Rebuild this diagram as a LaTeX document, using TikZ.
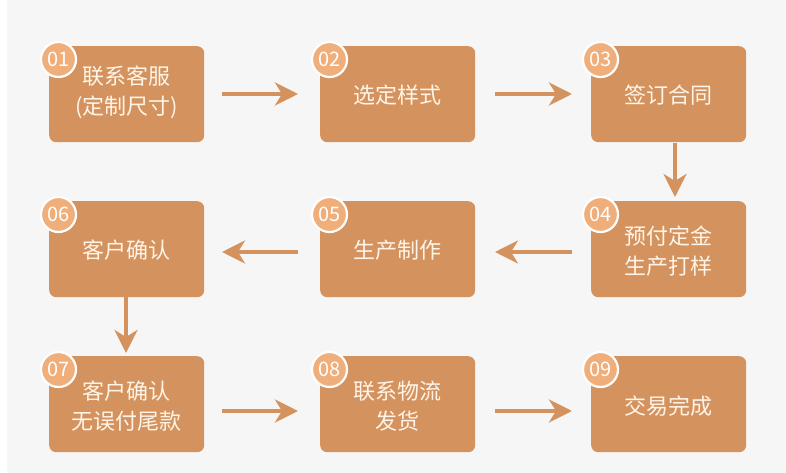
\documentclass[tikz,border=0pt]{standalone}
\usepackage{fontspec}
\newfontfamily\cjk{Noto Sans CJK SC}
\usetikzlibrary{arrows.meta}
\definecolor{boxc}{HTML}{D4935E}
\definecolor{circc}{HTML}{EFAE7A}
\definecolor{txtc}{HTML}{FFF4E8}
\definecolor{bgc}{HTML}{F6F6F6}
\tikzset{
  stepbox/.style={fill=boxc, rounded corners=7pt, minimum width=155pt, minimum height=96pt, inner sep=0pt, draw=none},
  steptext/.style={text=txtc, font=\cjk\fontsize{22}{30}\selectfont, align=center, inner sep=0pt},
  numcirc/.style={circle, fill=circc, draw=white, line width=2.2pt, minimum size=35pt, inner sep=0pt, text=white, font=\cjk\fontsize{20}{20}\selectfont},
  flow/.style={draw=boxc, line width=4pt, -{Stealth[length=23pt,width=23pt,inset=7pt]}},
}
\begin{document}
\begin{tikzpicture}[x=1pt,y=-1pt]
\useasboundingbox (0,0) rectangle (786,473);
\fill[white] (0,0) rectangle (786,473);
\fill[bgc] (7,0) rectangle (786,473);
% boxes: left x, top y
\foreach \n/\x/\y in {01/49/46, 02/320/46, 03/591/46, 04/591/201, 05/320/201, 06/49/201, 07/49/356, 08/320/356, 09/591/356}{
  \node[stepbox, anchor=north west] (b\n) at (\x,\y) {};
}
\node[steptext] (t01) at ([yshift=2pt]b01.center) {联系客服\\(定制尺寸)};
\node[steptext] (t02) at ([yshift=-1pt]b02.center) {选定样式};
\node[steptext] (t03) at ([yshift=-1pt]b03.center) {签订合同};
\node[steptext] (t04) at ([yshift=-2pt]b04.center) {预付定金\\生产打样};
\node[steptext] (t05) at ([yshift=-1pt]b05.center) {生产制作};
\node[steptext] (t06) at ([yshift=-1pt]b06.center) {客户确认};
\node[steptext] (t07) at ([yshift=-2pt]b07.center) {客户确认\\无误付尾款};
\node[steptext] (t08) at ([yshift=-2pt]b08.center) {联系物流\\发货};
\node[steptext] (t09) at ([yshift=-2pt]b09.center) {交易完成};
\foreach \n in {01,02,03,04,05,06,07,08,09}{
  \node[numcirc] (c\n) at ([xshift=9.5pt,yshift=-13.5pt]b\n.north west) {\n};
}
% arrows
\coordinate (a1s) at (222,94);  \coordinate (a1e) at (298,94);
\coordinate (a2s) at (495,94);  \coordinate (a2e) at (572,94);
\coordinate (a3s) at (675,143); \coordinate (a3e) at (675,197);
\coordinate (a4s) at (572,252); \coordinate (a4e) at (495,252);
\coordinate (a5s) at (298,252); \coordinate (a5e) at (222,252);
\coordinate (a6s) at (126,297); \coordinate (a6e) at (126,353);
\coordinate (a7s) at (222,411); \coordinate (a7e) at (298,411);
\coordinate (a8s) at (495,411); \coordinate (a8e) at (572,411);
\foreach \i in {1,...,8}{ \draw[flow] (a\i s) -- (a\i e); }
\end{tikzpicture}
\end{document}
